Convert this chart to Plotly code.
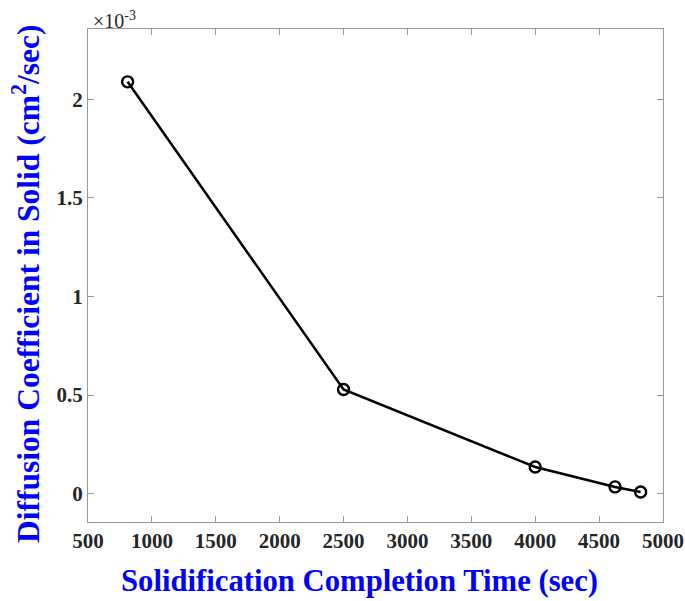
import plotly.graph_objects as go

time_sec = [810, 2500, 4000, 4625, 4825]
diff_coef = [2.089e-3, 0.528e-3, 0.135e-3, 0.034e-3, 0.008e-3]

x_ticks = [500, 1000, 1500, 2000, 2500, 3000, 3500, 4000, 4500, 5000]
y_tickvals = [0, 0.5e-3, 1.0e-3, 1.5e-3, 2.0e-3]
y_ticktext = ["0", "0.5", "1", "1.5", "2"]

FONT = "Liberation Serif"
TICKFONT = dict(family=FONT, size=21, color="#262626")

fig = go.Figure()
fig.add_trace(go.Scatter(
    x=time_sec, y=diff_coef, mode="lines+markers",
    line=dict(color="black", width=2.5),
    marker=dict(symbol="circle-open", size=11, color="black", line=dict(width=2.4)),
    showlegend=False,
))

axis_common = dict(
    showline=True, linecolor="#9a9a9a", linewidth=1.2, mirror="allticks",
    ticks="inside", ticklen=6, tickcolor="#9a9a9a", tickwidth=1,
    showgrid=False, zeroline=False, automargin=False,
    tickfont=TICKFONT,
)

fig.update_layout(
    width=685, height=601,
    margin=dict(l=88, r=22, t=29, b=79),
    plot_bgcolor="white", paper_bgcolor="white",
    font=dict(family=FONT),
    xaxis=dict(range=[500, 5000], tickvals=x_ticks,
               ticktext=["<b>%d</b>" % v for v in x_ticks],
               **axis_common),
    yaxis=dict(range=[-0.144e-3, 2.357e-3], tickvals=y_tickvals,
               ticktext=["<b>%s</b>" % t for t in y_ticktext],
               **axis_common),
    annotations=[
        dict(text="×10<sup>-3</sup>", xref="paper", yref="paper", x=0, y=1,
             xanchor="left", yanchor="bottom", showarrow=False, xshift=3,
             font=dict(family=FONT, size=20, color="#262626"), yshift=-5),
        dict(text="<b>Solidification Completion Time (sec)</b>",
             xref="paper", yref="paper", x=0.472, y=-0.1197,
             xanchor="center", yanchor="middle", showarrow=False,
             font=dict(family=FONT, size=30.7, color="#0000ff")),
        dict(text="<b>Diffusion Coefficient in Solid (cm<sup>2</sup>/sec)</b>",
             xref="paper", yref="paper", x=-0.113, y=0.4828, textangle=-90,
             xanchor="center", yanchor="middle", showarrow=False, xshift=3,
             font=dict(family=FONT, size=31.5, color="#0000ff")),
    ],
)

fig.write_html(
    "out.html",
    config={"displayModeBar": False},
    post_script="document.body.style.margin='0';document.body.style.overflow='hidden';",
)
